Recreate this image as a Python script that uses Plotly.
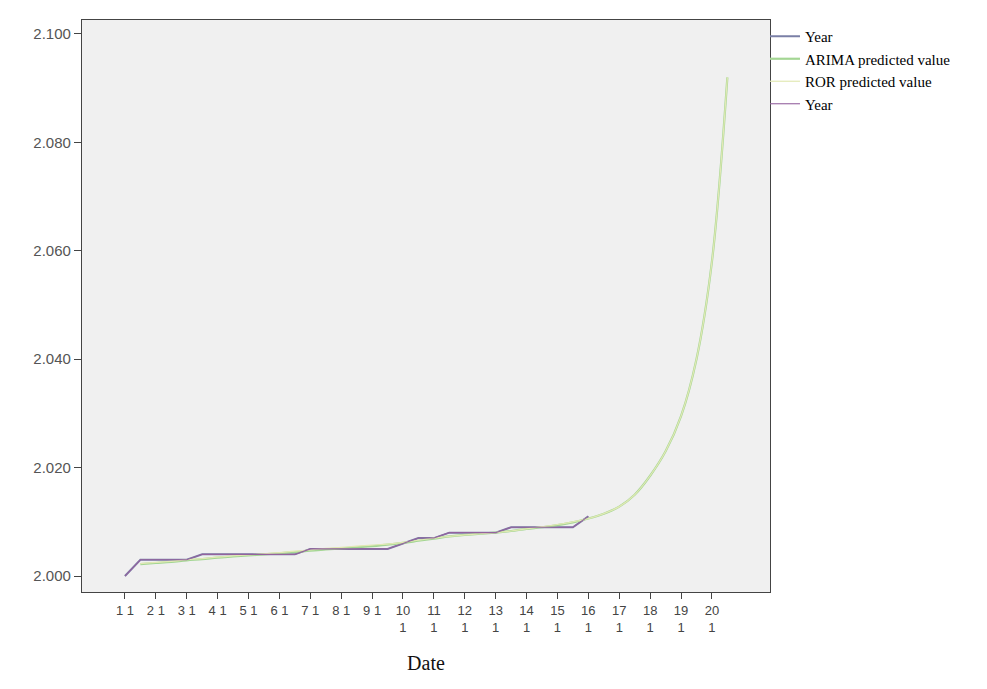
import plotly.graph_objects as go

# ---- data ----
x_obs = [1, 1.5, 2, 2.5, 3, 3.5, 4, 4.5, 5, 5.5, 6, 6.5, 7, 7.5, 8, 8.5, 9, 9.5,
         10, 10.5, 11, 11.5, 12, 12.5, 13, 13.5, 14, 14.5, 15, 15.5, 16]
year_a = [2.000, 2.003, 2.003, 2.003, 2.003, 2.004, 2.004, 2.004, 2.004, 2.004, 2.004,
          2.004, 2.005, 2.005, 2.005, 2.005, 2.005, 2.005, 2.006, 2.007, 2.007, 2.008,
          2.008, 2.008, 2.008, 2.009, 2.009, 2.009, 2.009, 2.009, 2.011]
year_b = [2.000, 2.003, 2.003, 2.003, 2.003, 2.004, 2.004, 2.004, 2.004, 2.004, 2.004,
          2.004, 2.005, 2.005, 2.005, 2.005, 2.005, 2.005, 2.006, 2.007, 2.007, 2.008,
          2.008, 2.008, 2.008, 2.009, 2.009, 2.009, 2.009, 2.009, 2.011]

x_pred = [1.5, 2, 2.5, 3, 3.5, 4, 4.5, 5, 5.5, 6, 6.5, 7, 7.5, 8, 8.5, 9, 9.5, 10,
          10.5, 11, 11.5, 12, 12.5, 13, 13.5, 14, 14.5, 15, 15.5, 16, 16.5, 17, 17.5,
          18, 18.5, 19, 19.5, 20, 20.5]
arima_pred = [2.0022, 2.0024, 2.0026, 2.0029, 2.0031, 2.0034, 2.0036, 2.0038, 2.0040,
              2.0042, 2.0044, 2.0047, 2.0049, 2.0051, 2.0053, 2.0055, 2.0058, 2.0061,
              2.0065, 2.0069, 2.0073, 2.0076, 2.0078, 2.0080, 2.0083, 2.0087, 2.0090,
              2.0094, 2.0099, 2.0106, 2.0115, 2.0128, 2.0150, 2.0185, 2.0230, 2.0295,
              2.0400, 2.0580, 2.0920]
ror_pred = [2.0023, 2.0025, 2.0027, 2.0030, 2.0032, 2.0035, 2.0037, 2.0039, 2.0041,
            2.0043, 2.0046, 2.0048, 2.0051, 2.0053, 2.0055, 2.0057, 2.0059, 2.0062,
            2.0066, 2.0070, 2.0073, 2.0076, 2.0078, 2.0080, 2.0083, 2.0087, 2.0091,
            2.0095, 2.0100, 2.0106, 2.0115, 2.0128, 2.0150, 2.0185, 2.0230, 2.0295,
            2.0400, 2.0580, 2.0920]

tick_vals = list(range(1, 21))
tick_text = [f"{i} 1" if i < 10 else f"{i}<br>1" for i in tick_vals]
y_ticks = [2.000, 2.020, 2.040, 2.060, 2.080, 2.100]

fig = go.Figure()
fig.add_trace(go.Scatter(x=x_obs, y=year_a, mode="lines", name="Year",
                         line=dict(color="#7a7fa6", width=2)))
fig.add_trace(go.Scatter(x=x_pred, y=arima_pred, mode="lines", name="ARIMA predicted value",
                         line=dict(color="#a4d694", width=2.2, shape="spline")))
fig.add_trace(go.Scatter(x=x_pred, y=ror_pred, mode="lines", name="ROR predicted value",
                         line=dict(color="#e2e9b4", width=1.2, shape="spline")))
fig.add_trace(go.Scatter(x=x_obs, y=year_b, mode="lines", name="Year",
                         line=dict(color="#94629f", width=1.1)))

axis_line = dict(showline=True, linecolor="#444444", linewidth=1.2, mirror=True,
                 showgrid=False, zeroline=False, ticks="outside", tickcolor="#444444")

fig.update_layout(
    width=987, height=689,
    margin=dict(l=74, r=225, t=12, b=105),
    paper_bgcolor="white", plot_bgcolor="#f0f0f0",
    showlegend=True,
    legend=dict(x=0.9927, y=1.0, xanchor="left", yanchor="top",
                bgcolor="rgba(0,0,0,0)", borderwidth=0,
                font=dict(family="Liberation Serif", size=15, color="#000000"),
                tracegroupgap=0, itemwidth=30),
    xaxis=dict(range=[-0.39, 21.88], tickmode="array", tickvals=tick_vals,
               ticktext=tick_text, ticklen=6,
               tickfont=dict(family="Liberation Sans", size=13, color="#444444"),
               title=dict(text="Date", standoff=22,
                          font=dict(family="Liberation Serif", size=20, color="#111111")),
               **axis_line),
    yaxis=dict(range=[1.99705, 2.10258], tickmode="array", tickvals=y_ticks,
               tickformat=".3f", ticklen=7,
               tickfont=dict(family="Liberation Sans", size=15, color="#555555"),
               **axis_line),
)

fig.write_html("out.html")
